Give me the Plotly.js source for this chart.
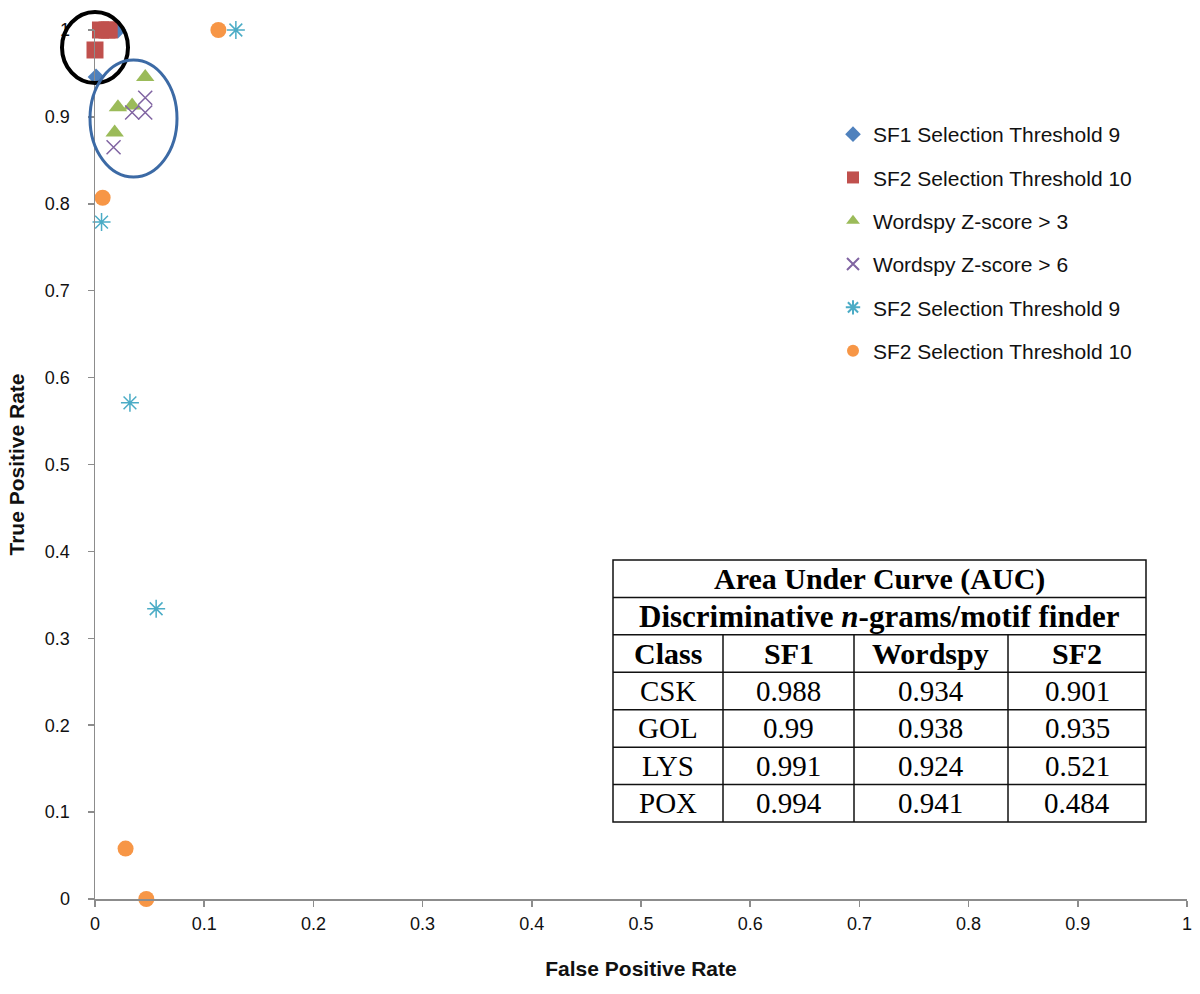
<!DOCTYPE html>
<html>
<head>
<meta charset="utf-8">
<script src="https://cdn.plot.ly/plotly-3.0.1.min.js"></script>
<style>html,body{margin:0;padding:0;background:#fff;}#chart{width:1200px;height:994px;}</style>
</head>
<body>
<div id="chart"></div>
<script>
// ---- Data ----
var sf1T9_x = [0.021, 0.012, 0.008, 0.001];
var sf1T9_y = [1.0, 1.0, 1.0, 0.946];
var sf2T10sq_x = [0.005, 0.011, 0.013, 0.0];
var sf2T10sq_y = [1.0, 1.0, 1.0, 0.977];
var wz3_x = [0.046, 0.021, 0.034, 0.018];
var wz3_y = [0.946, 0.911, 0.913, 0.882];
var wz6_x = [0.046, 0.034, 0.046, 0.017];
var wz6_y = [0.922, 0.905, 0.905, 0.865];
var sf2T9_x = [0.129, 0.006, 0.032, 0.056];
var sf2T9_y = [1.0, 0.779, 0.571, 0.334];
var sf2T10c_x = [0.113, 0.007, 0.028, 0.047];
var sf2T10c_y = [1.0, 0.807, 0.058, 0.0];

var tickVals = [0, 0.1, 0.2, 0.3, 0.4, 0.5, 0.6, 0.7, 0.8, 0.9, 1];
var tickText = ['0', '0.1', '0.2', '0.3', '0.4', '0.5', '0.6', '0.7', '0.8', '0.9', '1'];

var tableTitle = "Area Under Curve (AUC)";
var tableSubtitle = "Discriminative <i>n</i>-grams/motif finder";
var tableHeaders = ["Class", "SF1", "Wordspy", "SF2"];
var classes = ["CSK", "GOL", "LYS", "POX"];
var aucSF1 = ["0.988", "0.99", "0.991", "0.994"];
var aucWordspy = ["0.934", "0.938", "0.924", "0.941"];
var aucSF2 = ["0.901", "0.935", "0.521", "0.484"];

// ---- Layout helpers ----
var W = 1200, H = 994;
var mL = 95, mR = 13, mT = 30, mB = 95;
var pw = W - mL - mR, ph = H - mT - mB;
function px2x(p) { return (p - mL) / pw; }
function py2y(p) { return (H - mB - p) / ph; }

function mk(name, x, y, symbol, color, size, group, lineW) {
  return {
    type: 'scatter', mode: 'markers', name: name, x: x, y: y,
    legendgroup: group, cliponaxis: false,
    marker: {symbol: symbol, color: color, size: size, line: {color: color, width: lineW || 0}}
  };
}

var traces = [
  mk('SF1 Selection Threshold 9', sf1T9_x, sf1T9_y, 'diamond', '#4F81BD', 13, 'g1'),
  mk('SF2 Selection Threshold 10', sf2T10sq_x, sf2T10sq_y, 'square', '#C0504D', 17, 'g2'),
  mk('Wordspy Z-score > 3', wz3_x, wz3_y, 'triangle-up', '#9BBB59', 16, 'g3'),
  mk('Wordspy Z-score > 6', wz6_x, wz6_y, 'x-thin-open', '#8064A2', 14, 'g4', 1.5),
  mk('SF2 Selection Threshold 9', sf2T9_x, sf2T9_y, 'asterisk-open', '#4BACC6', 15, 'g5', 1.5),
  mk('SF2 Selection Threshold 10', sf2T10c_x, sf2T10c_y, 'circle', '#F79646', 16, 'g6')
];

// ---- Table built from shapes + annotations ----
var tL = 613, tR = 1146, tT = 560, tB = 822;
var colX = [tL, 723, 854, 1008, tR];
var nRows = 7;
var rowH = (tB - tT) / nRows;
var shapes = [];
var annotations = [];
var lc = '#111';
shapes.push({type: 'rect', xref: 'paper', yref: 'paper', x0: px2x(tL), x1: px2x(tR), y0: py2y(tB), y1: py2y(tT), line: {color: lc, width: 1.5}, fillcolor: '#ffffff', layer: 'below'});
for (var r = 1; r < nRows; r++) {
  var yy = py2y(tT + r * rowH);
  shapes.push({type: 'line', xref: 'paper', yref: 'paper', x0: px2x(tL), x1: px2x(tR), y0: yy, y1: yy, line: {color: lc, width: 1.5}});
}
for (var c = 1; c < colX.length - 1; c++) {
  shapes.push({type: 'line', xref: 'paper', yref: 'paper', x0: px2x(colX[c]), x1: px2x(colX[c]), y0: py2y(tB), y1: py2y(tT + 2 * rowH), line: {color: lc, width: 1.5}});
}
var serif = 'Liberation Serif, Times New Roman, serif';
function cell(text, row, c0, c1, bold, size) {
  annotations.push({
    xref: 'paper', yref: 'paper', showarrow: false,
    x: px2x((colX[c0] + colX[c1]) / 2), y: py2y(tT + (row + 0.5) * rowH),
    xanchor: 'center', yanchor: 'middle',
    text: bold ? '<b>' + text + '</b>' : text,
    font: {family: serif, size: size, color: '#000'}
  });
}
cell(tableTitle, 0, 0, 4, true, 30);
cell(tableSubtitle, 1, 0, 4, true, 31);
for (var h = 0; h < tableHeaders.length; h++) cell(tableHeaders[h], 2, h, h + 1, true, 30);
for (var i = 0; i < classes.length; i++) {
  cell(classes[i], 3 + i, 0, 1, false, 29);
  cell(aucSF1[i], 3 + i, 1, 2, false, 29);
  cell(aucWordspy[i], 3 + i, 2, 3, false, 29);
  cell(aucSF2[i], 3 + i, 3, 4, false, 29);
}

// ---- Highlight ellipses (paper refs so they are not clipped) ----
shapes.push({type: 'circle', xref: 'paper', yref: 'paper', x0: px2x(62), x1: px2x(128), y0: py2y(83), y1: py2y(12), line: {color: '#000000', width: 4}});
shapes.push({type: 'circle', xref: 'paper', yref: 'paper', x0: px2x(90), x1: px2x(177), y0: py2y(177), y1: py2y(60), line: {color: '#3C6AA5', width: 3}});

var sans = 'Liberation Sans, Arial, sans-serif';
var axisCommon = {
  range: [0, 1], showgrid: false, zeroline: false,
  showline: true, linecolor: '#8c8c8c', linewidth: 1.5,
  ticks: 'outside', ticklen: 6, tickcolor: '#8c8c8c', tickwidth: 1.5,
  tickvals: tickVals, ticktext: tickText,
  tickfont: {family: sans, size: 18, color: '#111'}
};
var layout = {
  width: W, height: H,
  margin: {l: mL, r: mR, t: mT, b: mB},
  paper_bgcolor: '#fff', plot_bgcolor: '#fff',
  showlegend: true,
  legend: {x: px2x(833), y: py2y(114), xanchor: 'left', yanchor: 'top',
    font: {family: sans, size: 21, color: '#111'}, tracegroupgap: 13,
    itemsizing: 'constant', bgcolor: 'rgba(0,0,0,0)'},
  xaxis: Object.assign({}, axisCommon, {
    ticklabelstandoff: 2,
    title: {text: '<b>False Positive Rate</b>', font: {family: sans, size: 21, color: '#111'}, standoff: 28}
  }),
  yaxis: Object.assign({}, axisCommon, {
    ticklabelstandoff: 14,
    title: {text: '<b>True Positive Rate</b>', font: {family: sans, size: 21, color: '#111'}, standoff: 14}
  }),
  shapes: shapes,
  annotations: annotations
};
Plotly.newPlot('chart', traces, layout, {displayModeBar: false, staticPlot: true});
</script>
</body>
</html>
